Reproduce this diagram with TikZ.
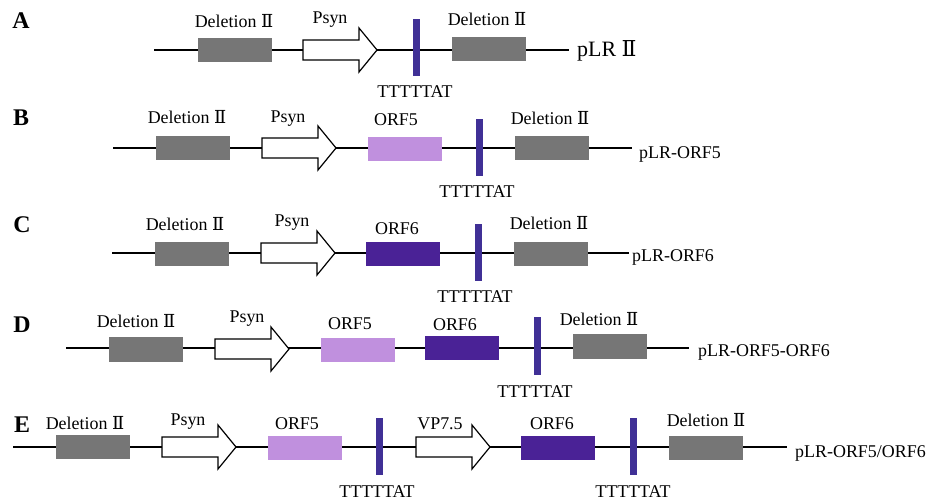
\documentclass[tikz,border=0pt]{standalone}
\usepackage{fontspec}
\setmainfont{Liberation Serif}
\newfontfamily\twofont{DejaVu Serif}
\newcommand\romtwo{{\twofont Ⅱ}}
\definecolor{delgray}{RGB}{118,118,118}
\definecolor{orfl}{RGB}{192,144,222}
\definecolor{orfd}{RGB}{74,34,150}
\definecolor{termblue}{RGB}{64,48,150}
\begin{document}
\begin{tikzpicture}[x=1bp,y=-1bp,
 backbone/.style={line width=2.8bp, black},
 gbox/.style={rectangle, inner sep=0, minimum width=74bp, minimum height=24bp, draw=none},
 delbox/.style={gbox, fill=delgray},
 orffive/.style={gbox, fill=orfl},
 orfsix/.style={gbox, fill=orfd},
 term/.style={rectangle, inner sep=0, minimum width=7bp, minimum height=57bp, fill=termblue},
 lbl/.style={inner sep=0, anchor=base, font=\fontsize{18}{20}\selectfont},
 endlbl/.style={inner sep=0, anchor=base west, font=\fontsize{18}{20}\selectfont},
 letter/.style={inner sep=0, anchor=base, font=\fontsize{24}{26}\selectfont\bfseries},
 promoter/.pic={\draw[line width=1.2bp, fill=white] (0,-10) -- (56,-10) -- (56,-22) -- (74,0) -- (56,22) -- (56,10) -- (0,10) -- cycle;}
]
\path[use as bounding box, fill=white] (0,0) rectangle (931,500);

% ---------- Row A ----------
\node[letter] (LA) at (21,29) {A};
\coordinate (As) at (154,50); \coordinate (Ae) at (569,50);
\draw[backbone] (As) -- (Ae);
\node[delbox] (Ad1) at (234.5,50) {};
\pic (Ap) at (303,50) {promoter};
\node[term] (At) at (416,47.5) {};
\node[delbox] (Ad2) at (489,49) {};
\node[lbl] (Ad1l) at (234,28) {Deletion \romtwo};
\node[lbl] (Apl) at (330,24) {Psyn};
\node[lbl] (Atl) at (415,98) {TTTTTAT};
\node[lbl] (Ad2l) at (487,26) {Deletion \romtwo};
\node[endlbl, font=\fontsize{22}{24}\selectfont] (Aend) at (577,57) {pLR \romtwo};

% ---------- Row B ----------
\node[letter] (LB) at (21,126) {B};
\coordinate (Bs) at (113,148); \coordinate (Be) at (632,148);
\draw[backbone] (Bs) -- (Be);
\node[delbox] (Bd1) at (193,148) {};
\pic (Bp) at (262,148) {promoter};
\node[orffive] (Bo5) at (404.5,149) {};
\node[term] (Bt) at (479,147.5) {};
\node[delbox] (Bd2) at (551.5,148.5) {};
\node[lbl] (Bd1l) at (187,124) {Deletion \romtwo};
\node[lbl] (Bpl) at (288,123) {Psyn};
\node[lbl] (Bo5l) at (396,126) {ORF5};
\node[lbl] (Btl) at (477,198) {TTTTTAT};
\node[lbl] (Bd2l) at (550,125) {Deletion \romtwo};
\node[endlbl] (Bend) at (639,159) {pLR-ORF5};

% ---------- Row C ----------
\node[letter] (LC) at (22,233) {C};
\coordinate (Cs) at (112,253); \coordinate (Ce) at (629,253);
\draw[backbone] (Cs) -- (Ce);
\node[delbox] (Cd1) at (192,254) {};
\pic (Cp) at (261,253) {promoter};
\node[orfsix] (Co6) at (403,254) {};
\node[term] (Ct) at (478,253) {};
\node[delbox] (Cd2) at (551,254.5) {};
\node[lbl] (Cd1l) at (185,231) {Deletion \romtwo};
\node[lbl] (Cpl) at (292,227) {Psyn};
\node[lbl] (Co6l) at (397,235) {ORF6};
\node[lbl] (Ctl) at (475,303) {TTTTTAT};
\node[lbl] (Cd2l) at (549,230) {Deletion \romtwo};
\node[endlbl] (Cend) at (632,262) {pLR-ORF6};

% ---------- Row D ----------
\node[letter] (LD) at (22,333) {D};
\coordinate (Ds) at (66,348); \coordinate (De) at (689,348);
\draw[backbone] (Ds) -- (De);
\node[delbox] (Dd1) at (146,349.5) {};
\pic (Dp) at (215,349) {promoter};
\node[orffive] (Do5) at (358,350) {};
\node[orfsix] (Do6) at (461.5,348) {};
\node[term] (Dt) at (537,346) {};
\node[delbox] (Dd2) at (609.5,346.5) {};
\node[lbl] (Dd1l) at (136,328) {Deletion \romtwo};
\node[lbl] (Dpl) at (247,323) {Psyn};
\node[lbl] (Do5l) at (350,330) {ORF5};
\node[lbl] (Do6l) at (455,331) {ORF6};
\node[lbl] (Dtl) at (535,397) {TTTTTAT};
\node[lbl] (Dd2l) at (599,326) {Deletion \romtwo};
\node[endlbl] (Dend) at (698,357) {pLR-ORF5-ORF6};

% ---------- Row E ----------
\node[letter] (LE) at (22,432) {E};
\coordinate (Es) at (13,447); \coordinate (Ee) at (787,447);
\draw[backbone] (Es) -- (Ee);
\node[delbox] (Ed1) at (93,447) {};
\pic (Ep) at (162,447) {promoter};
\node[orffive] (Eo5) at (304.5,448) {};
\node[term] (Et1) at (379.5,446) {};
\pic (Ev) at (416,447) {promoter};
\node[orfsix] (Eo6) at (558,448) {};
\node[term] (Et2) at (633.5,446) {};
\node[delbox] (Ed2) at (706,448) {};
\node[lbl] (Ed1l) at (85,429) {Deletion \romtwo};
\node[lbl] (Epl) at (188,425) {Psyn};
\node[lbl] (Eo5l) at (297,429) {ORF5};
\node[lbl] (Et1l) at (377,497) {TTTTTAT};
\node[lbl] (Evl) at (440,429) {VP7.5};
\node[lbl] (Eo6l) at (552,429) {ORF6};
\node[lbl] (Et2l) at (633,497) {TTTTTAT};
\node[lbl] (Ed2l) at (706,426) {Deletion \romtwo};
\node[endlbl] (Eend) at (795,457) {pLR-ORF5/ORF6};
\end{tikzpicture}
\end{document}
